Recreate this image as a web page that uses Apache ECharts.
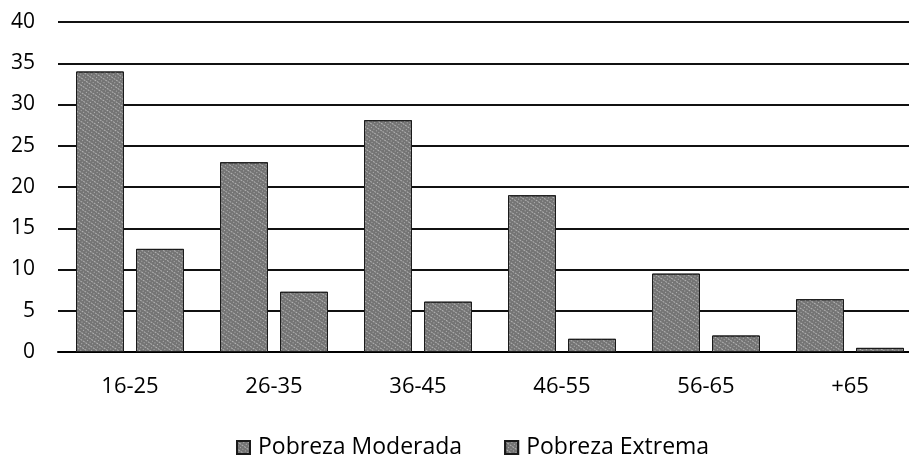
<!DOCTYPE html>
<html>
<head>
<meta charset="utf-8">
<script src="https://cdn.jsdelivr.net/npm/echarts@6/dist/echarts.min.js"></script>
<style>
  html, body { margin: 0; padding: 0; background: #fff; }
  #chart { width: 909px; height: 458px; }
</style>
</head>
<body>
<div id="chart"></div>
<script>
// age groups on the x axis
const categories = ['16-25', '26-35', '36-45', '46-55', '56-65', '+65'];
// values
const moderada = [34, 23, 28.1, 19, 9.5, 6.4];
const extrema = [12.5, 7.3, 6.1, 1.6, 2.0, 0.5];
const yTicks = [0, 5, 10, 15, 20, 25, 30, 35, 40];

const chart = echarts.init(document.getElementById('chart'));

// speckled grey like the scanned original
const barStyle = {
  color: '#747474',
  borderColor: '#1a1a1a',
  borderWidth: 1,
  decal: {
    symbol: 'rect',
    symbolSize: 1,
    dashArrayX: [[1, 2], [2, 1]],
    dashArrayY: [1, 2],
    color: 'rgba(255,255,255,0.45)',
    rotation: 0.6
  }
};

chart.setOption({
  animation: false,
  aria: { enabled: true, decal: { show: true } },
  textStyle: { fontFamily: 'Open Sans', color: '#000' },
  // the scan crops the plot on the right, so the grid runs past the edge
  grid: { left: 58, right: -13, top: 22, bottom: 106, outerBoundsMode: 'none' },
  legend: {
    top: 431,
    left: 231,
    icon: 'rect',
    itemWidth: 13,
    itemHeight: 13,
    itemGap: 42,
    textStyle: { fontSize: 23, color: '#000', fontFamily: 'Open Sans', padding: [0, 0, 0, 3] },
    data: ['Pobreza Moderada', 'Pobreza Extrema']
  },
  xAxis: {
    type: 'category',
    data: categories,
    axisLine: { lineStyle: { color: '#000', width: 2 } },
    axisTick: { show: false },
    axisLabel: { fontSize: 22, color: '#000', margin: 24 }
  },
  yAxis: {
    type: 'value',
    min: yTicks[0],
    max: yTicks[yTicks.length - 1],
    interval: 5,
    axisLine: { show: false },
    axisTick: { show: false },
    axisLabel: { fontSize: 21, color: '#000', margin: 23 },
    splitLine: { lineStyle: { color: '#111', width: 2 } }
  },
  series: [
    {
      name: 'Pobreza Moderada',
      type: 'bar',
      data: moderada,
      barWidth: 48,
      barGap: '25%',
      itemStyle: barStyle
    },
    {
      name: 'Pobreza Extrema',
      type: 'bar',
      data: extrema,
      barWidth: 48,
      itemStyle: barStyle
    }
  ]
});
</script>
</body>
</html>
